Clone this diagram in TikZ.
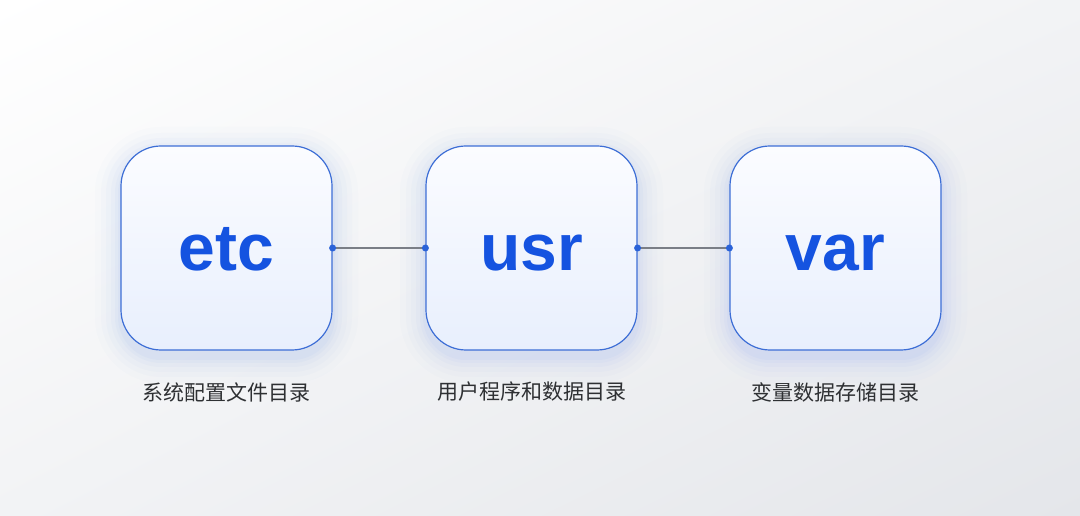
\documentclass[tikz,border=0pt]{standalone}
\usepackage{fontspec}
\setmainfont{Liberation Sans}
\newfontfamily\cjk{Noto Sans CJK SC}
\usetikzlibrary{shadings}
\definecolor{bgA}{HTML}{FFFFFF}
\definecolor{bgB}{HTML}{E4E6EA}
\definecolor{bgC}{HTML}{F2F3F5}
\definecolor{boxline}{HTML}{3D6ED6}
\definecolor{boxtop}{HTML}{FBFCFF}
\definecolor{boxbot}{HTML}{E8EFFD}
\definecolor{txtblue}{HTML}{1553E0}
\definecolor{labelgray}{HTML}{2E3033}
\definecolor{conngray}{HTML}{7A7E86}
\definecolor{dotblue}{HTML}{2A62D8}
\definecolor{glow}{HTML}{6E95F0}
\tikzset{
  x=1pt, y=1pt,
  dirbox/.style={rounded corners=40pt, minimum width=211pt, minimum height=204pt,
    draw=boxline, line width=1.2pt, top color=boxtop, bottom color=boxbot,
    inner sep=0pt, text height=46pt, text depth=0pt,
    font=\fontsize{66}{66}\selectfont\bfseries, text=txtblue},
  dirlabel/.style={font=\cjk\fontsize{21}{22}\selectfont, text=labelgray},
  conn/.style={draw=conngray, line width=1.5pt},
  enddot/.style={fill=dotblue, draw=none, circle, inner sep=0pt, minimum size=7pt},
}
\begin{document}
\begin{tikzpicture}
\useasboundingbox (0,0) rectangle (1080,516);
\shade[upper left=bgA, upper right=bgC, lower left=bgC, lower right=bgB] (0,0) rectangle (1080,516);
% glows
\foreach \cx in {226.5,531.5,835.5}{
  \foreach \g/\o in {26/0.02,20/0.025,15/0.03,10/0.04,6/0.045,3/0.05}{
    \fill[glow, opacity=\o, rounded corners=40+\g]
      (\cx-105.5-\g, 268-102-\g-7) rectangle (\cx+105.5+\g, 268+102+\g-7);
  }
}
\node[dirbox] (etc) at (226.5,268) {etc};
\node[dirbox] (usr) at (531.5,268) {usr};
\node[dirbox] (var) at (835.5,268) {var};
\node[dirlabel] (etcl) at (226.5,124) {系统配置文件目录};
\node[dirlabel] (usrl) at (531.5,124) {用户程序和数据目录};
\node[dirlabel] (varl) at (835.5,124) {变量数据存储目录};
\draw[conn] (etc.east) -- (usr.west);
\draw[conn] (usr.east) -- (var.west);
\node[enddot] at (etc.east) {};
\node[enddot] at (usr.west) {};
\node[enddot] at (usr.east) {};
\node[enddot] at (var.west) {};
\end{tikzpicture}
\end{document}
